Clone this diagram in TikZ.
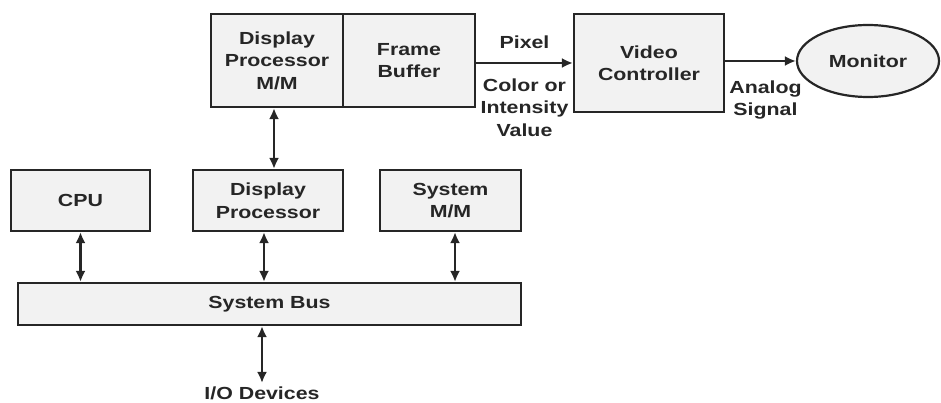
\documentclass[tikz,border=0pt]{standalone}
\usepackage{fontspec}
\setmainfont{Liberation Sans}[FakeStretch=1.22]
\usetikzlibrary{arrows.meta, shapes.geometric}

\begin{document}
\begin{tikzpicture}[
    x=1pt, y=-1pt,
    every node/.style={font=\fontsize{17.5}{22.5}\selectfont\bfseries, align=center, text=black!85},
    box/.style={rectangle, draw=black!85, line width=2.2pt, fill=black!5, inner sep=2pt},
    arr/.style={-{Latex[length=11pt,width=10pt]}, line width=2.2pt, black!85},
    darr/.style={{Latex[length=11pt,width=10pt]}-{Latex[length=11pt,width=10pt]}, line width=2.2pt, black!85}
]
\useasboundingbox (0,0) rectangle (941,403);

% top row
\node[box, minimum width=132pt, minimum height=93pt] (dpmm) at (277,60.5) {Display\\Processor\\M/M};
\node[box, minimum width=132pt, minimum height=93pt] (fb)   at (409,60.5) {Frame\\Buffer};
\node[box, minimum width=150pt, minimum height=98pt] (vc)   at (649,63)   {Video\\Controller};
\node[ellipse, draw=black!85, line width=2.2pt, fill=black!5, minimum width=142pt, minimum height=72pt] (mon) at (868,61) {Monitor};

% middle row
\node[box, minimum width=139pt, minimum height=61pt] (cpu) at (80.5,200.5) {CPU};
\node[box, minimum width=150pt, minimum height=61pt] (dp)  at (268,200.5)  {Display\\Processor};
\node[box, minimum width=141pt, minimum height=61pt] (smm) at (450.5,200.5) {System\\M/M};

% bus
\node[box, minimum width=503pt, minimum height=42pt] (bus) at (269.5,304) {System Bus};
\node (io) at (262,393) {I/O Devices};

\draw[arr] (fb.east |- vc.west) -- node[above=10pt]{Pixel} node[below=11pt]{Color or\\Intensity\\Value} (vc.west);
\draw[arr] (vc.east |- mon.west) -- node[below=15pt, xshift=5pt]{Analog\\Signal} (mon.west);
\draw[darr] ([xshift=-3pt]dpmm.south) -- ([xshift=-3pt]dpmm.south |- dp.north);
\draw[darr] (cpu.south) -- (cpu.south |- bus.north);
\draw[darr] ([xshift=-4pt]dp.south) -- ([xshift=-4pt]dp.south |- bus.north);
\draw[darr] ([xshift=4.5pt]smm.south) -- ([xshift=4.5pt]smm.south |- bus.north);
\draw[darr] (bus.south -| io.north) -- (io.north);
\end{tikzpicture}
\end{document}
